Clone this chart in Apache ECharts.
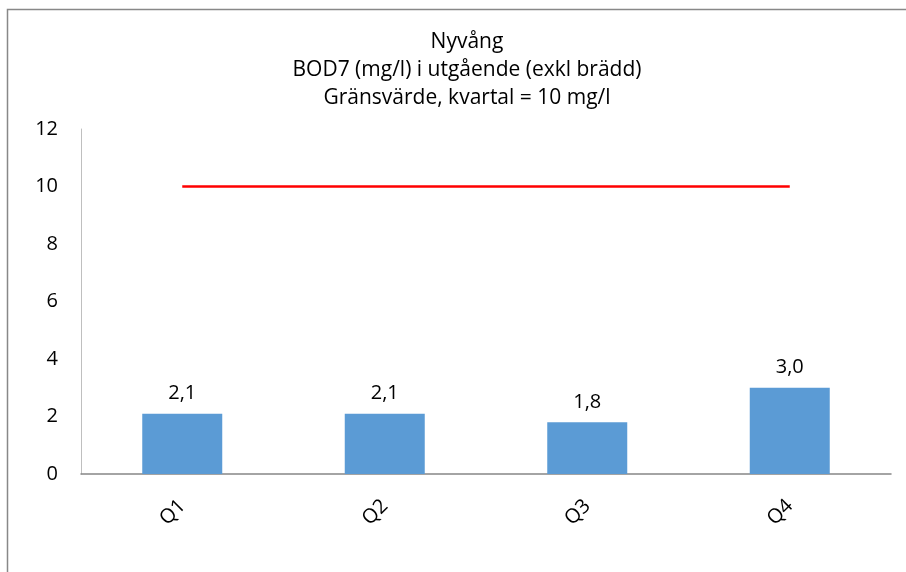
<!DOCTYPE html>
<html><head><meta charset="utf-8">
<script src="https://cdn.jsdelivr.net/npm/echarts@6/dist/echarts.min.js"></script>
<style>html,body{margin:0;padding:0;background:#fff}#c{width:906px;height:572px}</style>
</head><body><div id="c"></div>
<script>
const categories = ['Q1', 'Q2', 'Q3', 'Q4'];
const bodValues = [2.1, 2.1, 1.8, 3.0];
const limitValues = [10, 10, 10, 10];
const yTicks = { min: 0, max: 12, interval: 2 };
const titleLines = ['Nyvång', 'BOD7 (mg/l) i utgående (exkl brädd)', 'Gränsvärde, kvartal = 10 mg/l'];

const FONT = 'Open Sans';
const chart = echarts.init(document.getElementById('c'));
chart.setOption({
  animation: false,
  backgroundColor: '#fff',
  textStyle: { fontFamily: FONT },
  title: {
    text: titleLines.join('\n'),
    left: 462, top: 23, textAlign: 'center',
    textStyle: { fontFamily: FONT, fontSize: 21, fontWeight: 'normal', color: '#000', lineHeight: 28 }
  },
  graphic: [{
    type: 'polyline', silent: true,
    shape: { points: [[7.5, 572], [7.5, 9.5], [906, 9.5]] },
    style: { stroke: '#888', lineWidth: 1.5, fill: null }
  }],
  grid: { left: 81, right: 15, top: 129, bottom: 98, containLabel: false },
  xAxis: {
    type: 'category', data: categories,
    axisLine: { lineStyle: { color: '#868686', width: 1.5 } },
    axisTick: { show: false },
    axisLabel: { rotate: 45, margin: 29, fontSize: 20, color: '#000', fontFamily: FONT }
  },
  yAxis: {
    type: 'value', min: yTicks.min, max: yTicks.max, interval: yTicks.interval,
    axisLine: { show: true, lineStyle: { color: '#bfbfbf', width: 1 } },
    axisTick: { show: false },
    splitLine: { show: false },
    axisLabel: { fontSize: 20, color: '#000', fontFamily: FONT, margin: 23 }
  },
  series: [{
    type: 'bar', data: bodValues, barWidth: 80,
    itemStyle: { color: '#5B9BD5' },
    label: {
      show: true, position: 'top', distance: 10, fontSize: 20, color: '#000', fontFamily: FONT,
      formatter: p => p.value.toFixed(1).replace('.', ',')
    }
  }, {
    type: 'line', data: limitValues, symbol: 'none',
    lineStyle: { color: '#FF0000', width: 2.5 }, z: 3
  }]
});
</script></body></html>
